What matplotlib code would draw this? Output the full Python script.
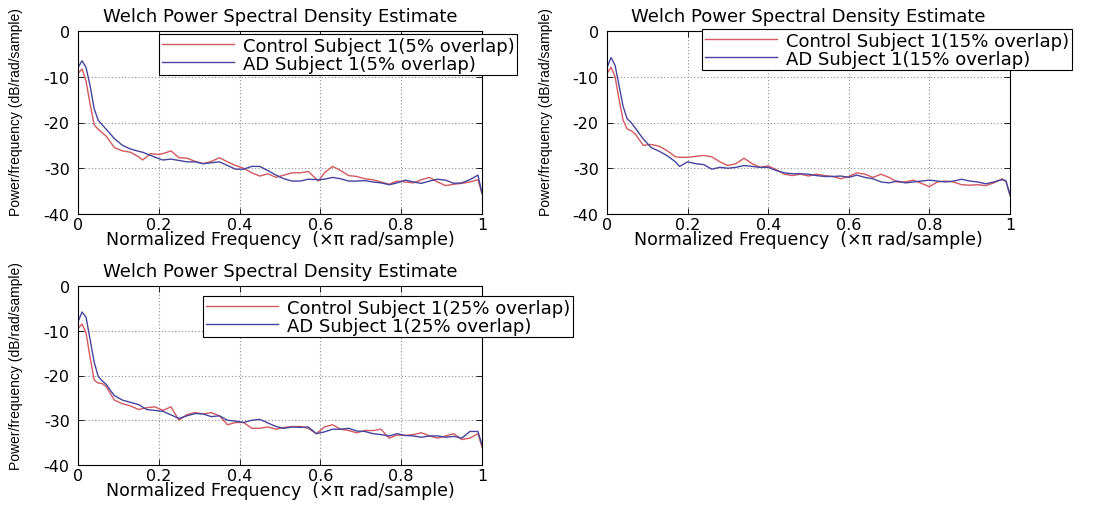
import matplotlib
matplotlib.use('Agg')
import matplotlib.pyplot as plt

# normalized frequency grids (x pi rad/sample) and Welch PSD estimates in dB/rad/sample
freq_05 = [0, 0.01, 0.02, 0.03, 0.04, 0.05, 0.07, 0.09, 0.11, 0.13, 0.15, 0.16, 0.18, 0.20,
           0.21, 0.23, 0.25, 0.27, 0.29, 0.31, 0.33, 0.35, 0.37, 0.39, 0.41, 0.43, 0.45, 0.47,
           0.49, 0.51, 0.53, 0.55, 0.57, 0.595, 0.61, 0.63, 0.65, 0.67, 0.69, 0.71, 0.73, 0.75,
           0.77, 0.79, 0.81, 0.83, 0.85, 0.87, 0.89, 0.91, 0.93, 0.95, 0.97, 0.99, 1.0]
control_05 = [-9.3, -8.3, -11, -16, -20.5, -21.5, -23, -25.5, -26.2, -26.5, -27.5, -28.2, -26.8, -27.0,
              -26.8, -26.2, -27.7, -27.8, -28.5, -29.0, -28.5, -27.7, -28.6, -29.4, -30.0, -31.0, -31.7, -31.2,
              -32.0, -31.5, -31.0, -31.0, -30.7, -32.8, -31.0, -29.6, -30.5, -31.6, -31.8, -32.3, -32.5, -33.0,
              -33.5, -32.8, -33.0, -33.2, -32.5, -32.0, -33.0, -33.8, -33.5, -33.3, -33.0, -32.5, -35.5]
ad_05 = [-8, -6.5, -8, -12, -17, -19.5, -21.5, -23.5, -25.0, -25.8, -26.3, -26.5, -27.2, -27.9,
         -28.2, -28.0, -28.3, -28.6, -28.6, -29.0, -28.8, -28.6, -29.4, -30.2, -30.2, -29.6, -29.6, -30.5,
         -31.5, -32.3, -32.8, -32.8, -32.4, -32.5, -32.4, -32.0, -32.3, -32.8, -32.8, -32.7, -33.0, -33.2,
         -33.6, -33.2, -32.6, -33.0, -33.3, -32.8, -32.4, -32.6, -33.3, -33.2, -32.5, -31.5, -35.5]

freq_15 = [0, 0.01, 0.02, 0.03, 0.04, 0.05, 0.06, 0.07, 0.09, 0.11, 0.13, 0.15, 0.17, 0.18,
           0.20, 0.22, 0.24, 0.26, 0.28, 0.30, 0.32, 0.34, 0.36, 0.38, 0.40, 0.42, 0.44, 0.46,
           0.48, 0.50, 0.52, 0.54, 0.56, 0.58, 0.60, 0.62, 0.64, 0.66, 0.68, 0.70, 0.72, 0.74,
           0.76, 0.78, 0.80, 0.82, 0.84, 0.86, 0.88, 0.90, 0.92, 0.94, 0.96, 0.98, 0.99, 1.0]
control_15 = [-9.3, -7.9, -10, -15, -19.5, -21.4, -21.8, -22.5, -25, -24.8, -25.2, -26.2, -27.5, -27.6,
              -27.6, -27.4, -27.2, -27.5, -28.6, -29.4, -29.0, -27.8, -29.0, -29.8, -29.5, -30.3, -31.3, -31.6,
              -31.3, -31.7, -31.3, -31.6, -31.8, -32.3, -31.8, -31.0, -31.3, -32.0, -31.3, -32.0, -33.0, -33.0,
              -32.6, -33.3, -34.0, -33.0, -32.8, -33.0, -33.6, -33.7, -33.6, -33.8, -33.2, -32.3, -32.8, -36]
ad_15 = [-8, -5.8, -7.5, -12, -16.5, -19.2, -20, -21.2, -23.6, -25.5, -26.3, -27.3, -28.6, -29.6,
         -28.6, -29.0, -29.2, -30.2, -29.8, -30.0, -29.8, -29.4, -29.6, -29.8, -29.8, -30.5, -31.0, -31.2,
         -31.2, -31.3, -31.6, -31.8, -31.8, -31.7, -32.0, -31.5, -32.0, -32.3, -33.0, -33.2, -32.8, -33.2,
         -33.0, -32.8, -32.6, -32.8, -33.0, -32.8, -32.4, -32.8, -33.0, -33.4, -33.0, -32.5, -32.8, -35.8]

freq_25 = [0, 0.01, 0.02, 0.03, 0.04, 0.05, 0.06, 0.07, 0.08, 0.09, 0.11, 0.13, 0.15, 0.17,
           0.19, 0.21, 0.23, 0.25, 0.27, 0.29, 0.31, 0.33, 0.35, 0.37, 0.39, 0.41, 0.43, 0.45,
           0.47, 0.49, 0.51, 0.53, 0.55, 0.57, 0.59, 0.61, 0.63, 0.65, 0.67, 0.69, 0.71, 0.73,
           0.75, 0.77, 0.79, 0.81, 0.83, 0.85, 0.87, 0.89, 0.91, 0.93, 0.95, 0.97, 0.99, 1.0]
control_25 = [-9.5, -8.5, -10.5, -16, -21, -21.7, -21.8, -22.5, -24, -25.5, -26.3, -26.8, -27.6, -27.2,
              -27.0, -27.8, -27.0, -30.0, -28.7, -28.3, -28.6, -28.3, -29.0, -31.0, -30.5, -30.5, -31.8, -31.8,
              -31.5, -32.0, -31.6, -31.4, -31.4, -31.8, -33.0, -31.5, -31.0, -32.0, -32.3, -32.8, -32.3, -32.3,
              -32.0, -34.0, -33.3, -33.4, -33.2, -32.8, -33.5, -34.0, -33.5, -33.0, -34.3, -34.0, -33.0, -36]
ad_25 = [-8, -5.8, -7, -12, -17, -20.2, -21.2, -22, -23.3, -24.5, -25.5, -26, -26.5, -27.6,
         -27.8, -28, -28.8, -29.6, -29, -28.5, -28.6, -29.2, -29, -30, -30.2, -30.5, -30, -29.8,
         -30.6, -31.4, -31.8, -31.5, -31.6, -31.5, -33, -32.6, -32, -32, -31.8, -32.4, -32.5, -33.0,
         -33.2, -33.5, -33.0, -33.4, -33.5, -33.8, -33.5, -33.5, -33.8, -33.6, -34.0, -32.5, -32.5, -35.5]

xticks = [0, 0.2, 0.4, 0.6, 0.8, 1]
xtick_labels = ['0', '0.2', '0.4', '0.6', '0.8', '1']
yticks = [-40, -30, -20, -10, 0]
ytick_labels = ['-40', '-30', '-20', '-10', '0']

RED = '#d2595e'
BLUE = '#45459e'
W, H = 1095, 506

plt.rcParams['font.family'] = ['DejaVu Sans']


def psd_panel(fig, rect, freq, control, ad, overlap, legend_corner):
    ax = fig.add_axes(rect)
    ax.plot(freq, control, color=RED, lw=1.0, label='Control Subject 1(%d%% overlap)' % overlap)
    ax.plot(freq, ad, color=BLUE, lw=1.0, label='AD Subject 1(%d%% overlap)' % overlap)
    ax.set_xlim(0, 1)
    ax.set_ylim(-40, 0)
    ax.set_xticks(xticks)
    ax.set_xticklabels(xtick_labels)
    ax.set_yticks(yticks)
    ax.set_yticklabels(ytick_labels)
    ax.tick_params(direction='in', top=True, right=True, length=4, width=0.6,
                   labelsize=11.5, colors='black')
    ax.tick_params(axis='x', pad=2)
    ax.tick_params(axis='y', pad=6)
    ax.grid(True, linestyle=(0, (1, 2)), color='#8c8c8c', linewidth=0.8)
    for s in ax.spines.values():
        s.set_linewidth(0.8)
    ax.set_title('Welch Power Spectral Density Estimate', fontsize=13, pad=7)
    ax.set_xlabel('Normalized Frequency  (\u00d7\u03c0 rad/sample)', fontsize=12.5, labelpad=-1)
    ax.set_ylabel('Power/frequency (dB/rad/sample)', fontsize=10, family='Liberation Sans')
    ax.yaxis.set_label_coords(-0.135, 0.56)
    leg = ax.legend(loc='upper left', bbox_to_anchor=(legend_corner[0] / W, 1 - legend_corner[1] / H),
                    bbox_transform=fig.transFigure, fontsize=13, frameon=True, fancybox=False,
                    framealpha=1, edgecolor='black', borderpad=0.15, labelspacing=0.0,
                    handlelength=4.0, handletextpad=0.5, borderaxespad=0)
    leg.get_frame().set_linewidth(0.8)
    return ax


fig = plt.figure(figsize=(W / 100, H / 100), dpi=100)
psd_panel(fig, [78 / W, 1 - 215 / H, 404 / W, 183 / H], freq_05, control_05, ad_05, 5, (159, 35))
psd_panel(fig, [607 / W, 1 - 215 / H, 403 / W, 183 / H], freq_15, control_15, ad_15, 15, (702, 30))
psd_panel(fig, [78 / W, 1 - 466 / H, 404 / W, 179 / H], freq_25, control_25, ad_25, 25, (203, 297))

fig.savefig('out.png', dpi=100)
